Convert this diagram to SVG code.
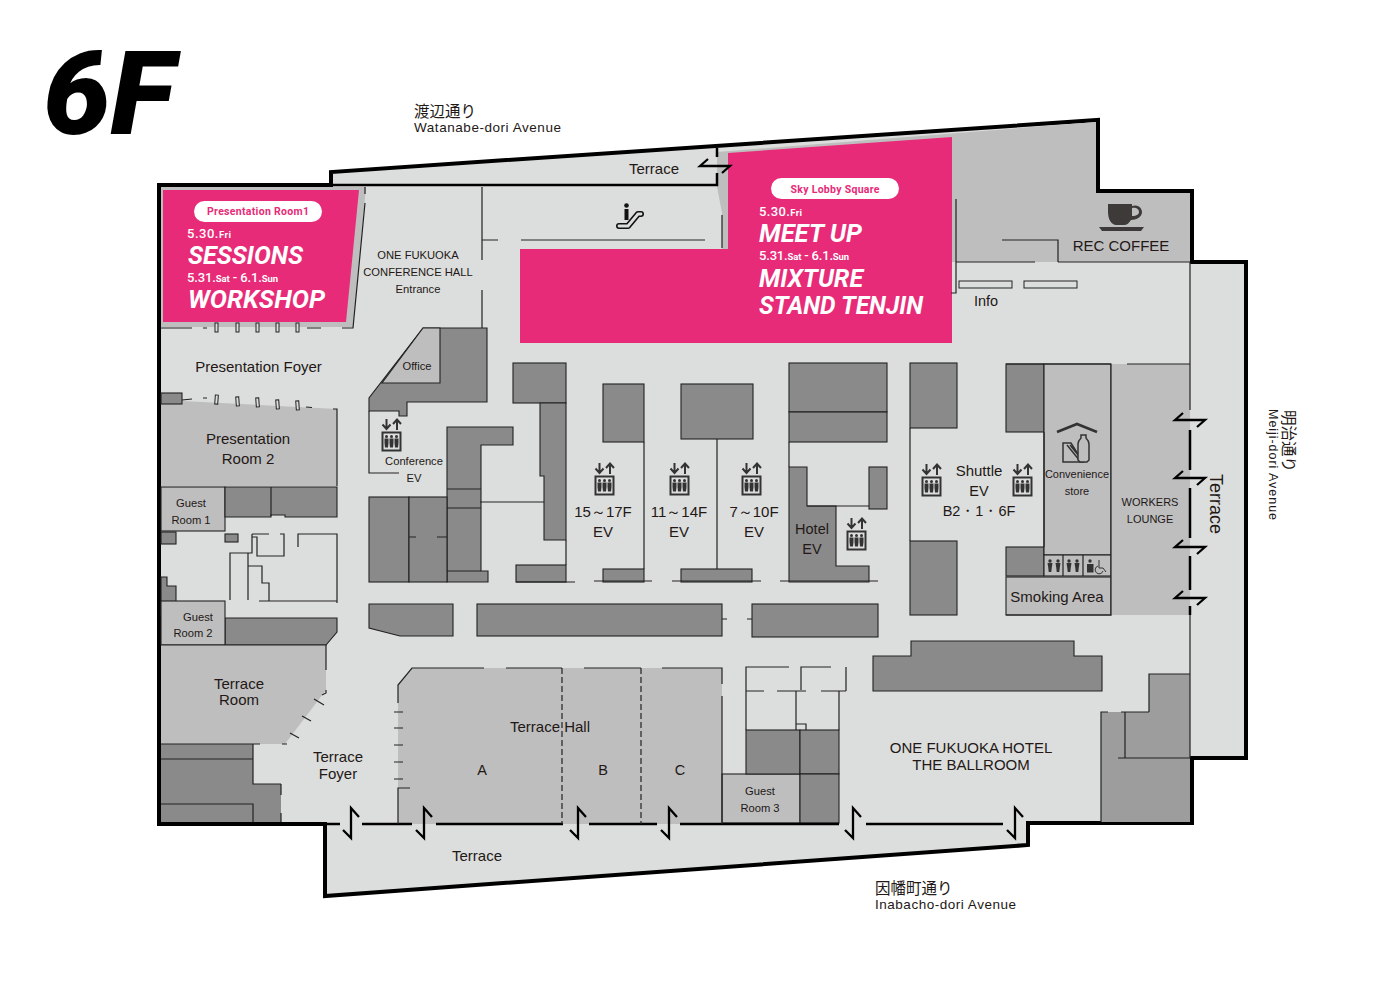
<svg xmlns="http://www.w3.org/2000/svg" width="1400" height="1000" viewBox="0 0 1400 1000">
<style>
text{font-family:"Liberation Sans",Arial,sans-serif;fill:#231815;text-anchor:middle}
.jp{font-family:"Noto Sans CJK JP","Liberation Sans",sans-serif;text-anchor:start}
.en{text-anchor:start;font-size:13.5px}
.s16{font-size:15px}.s15{font-size:14.5px}.s12{font-size:11.2px}
.g{fill:#bebebf}.d{fill:#8a8a8a;stroke:#222;stroke-width:1.1}.m{fill:#9d9d9e;stroke:none}
.gs{fill:#bebebf;stroke:#222;stroke-width:1.1}
.l{fill:none;stroke:#222;stroke-width:1.2}
.t{fill:none;stroke:#000;stroke-width:2.5}
.dash{fill:none;stroke:#222;stroke-width:1.2;stroke-dasharray:6 3}
.pil{fill:#dcdedd;stroke:#222;stroke-width:1}
.pink{fill:#e72b78}
.b{font-family:Roboto,"Liberation Sans",sans-serif;font-weight:700;font-style:italic;fill:#fff;text-anchor:start}
.dt{font-family:Roboto,"Liberation Sans",sans-serif;font-weight:500;fill:#fff;text-anchor:start;font-size:13px}
.dt tspan{font-size:9.5px;font-weight:700}
.pt{font-family:Roboto,"Liberation Sans",sans-serif;font-weight:700;fill:#e72b78;font-size:10.5px}
</style>
<defs>
<symbol id="ev" viewBox="0 0 22 33" width="22" height="33" overflow="visible">
<path d="M5.500 0v9.500M1.500 5.500l4 4.500 4-4.500M16 11V1M12 5l4-4.500 4 4.500" fill="none" stroke="#333" stroke-width="2"/>
<rect x="1.500" y="13.500" width="18" height="18" fill="#dcdedd" stroke="#333" stroke-width="2"/>
<g fill="#333"><circle cx="5.500" cy="17.500" r="1.500"/><circle cx="10.500" cy="17.500" r="1.500"/><circle cx="15.500" cy="17.500" r="1.500"/>
<path d="M3.500 19.500h4v4.500l-.5 4.500h-3l-.5-4.500zM8.500 19.500h4v4.500l-.5 4.500h-3l-.5-4.500zM13.500 19.500h4v4.500l-.5 4.500h-3l-.5-4.500z"/></g>
</symbol>
<path id="dz" d="M8 9L0 0V30L-8 22" fill="none" stroke="#000" stroke-width="2.300"/>
<path id="dh" d="M8 -7L0 0H30L22 7" fill="none" stroke="#000" stroke-width="2.300"/>
</defs>
<rect width="1400" height="1000" fill="#fff"/>
<g id="title"><text x="43" y="134" style="font-family:Roboto,sans-serif;font-weight:900;font-style:italic;font-size:116px;text-anchor:start;fill:#000" textLength="131" lengthAdjust="spacingAndGlyphs">6F</text></g>
<g id="streets">
<text class="jp" x="414" y="117" font-size="15.500">渡辺通り</text>
<text class="en" x="414" y="132" textLength="147" lengthAdjust="spacing">Watanabe-dori Avenue</text>
<text class="jp" x="875" y="894" font-size="15.500">因幡町通り</text>
<text class="en" x="875" y="909" textLength="141" lengthAdjust="spacing">Inabacho-dori Avenue</text>
<text class="jp" transform="translate(1283 410) rotate(90)" font-size="15.500">明治通り</text>
<text class="en" transform="translate(1269 409) rotate(90)" textLength="111" lengthAdjust="spacing" style="font-size:12.5px">Meiji-dori Avenue</text>
</g>
<path id="floor" d="M159 185H331V172L1098 120V191H1192V262H1246V758H1192V823H1028V845L325 896V824H159Z" fill="#dcdedd" stroke="#000" stroke-width="4"/>

<g id="grey-areas">
<path class="g" d="M717 152L1096 122V193H1190V262H952V249H722V213L717 187Z"/>
<path class="g" d="M161 187H366L353 327H161Z"/>
</g>

<g id="sky-lobby">
<path class="pink" d="M728 153L952 137V343H520V249H728Z"/>
<rect x="771" y="178" width="128" height="21" rx="10.500" fill="#fff"/>
<text class="pt" x="835" y="193" textLength="89">Sky Lobby Square</text>
<text class="dt" x="759" y="216" textLength="43">5.30.<tspan>Fri</tspan></text>
<text class="b" x="759" y="242" font-size="26" textLength="103" lengthAdjust="spacingAndGlyphs">MEET UP</text>
<text class="dt" x="759" y="260" textLength="90">5.31.<tspan>Sat</tspan> - 6.1.<tspan>Sun</tspan></text>
<text class="b" x="759" y="287" font-size="26" textLength="104" lengthAdjust="spacingAndGlyphs">MIXTURE</text>
<text class="b" x="759" y="314" font-size="26" textLength="164" lengthAdjust="spacingAndGlyphs">STAND TENJIN</text>
</g>

<g id="presentation-room-1">
<path class="pink" d="M163 190H359L346 322H163Z"/>
<rect x="194" y="201" width="128" height="21" rx="10.500" fill="#fff"/>
<text class="pt" x="258" y="215" textLength="102">Presentation Room1</text>
<text class="dt" x="187" y="238" textLength="44">5.30.<tspan>Fri</tspan></text>
<text class="b" x="188" y="264" font-size="26" textLength="115" lengthAdjust="spacingAndGlyphs">SESSIONS</text>
<text class="dt" x="187" y="282" textLength="91">5.31.<tspan>Sat</tspan> - 6.1.<tspan>Sun</tspan></text>
<text class="b" x="188" y="308" font-size="26" textLength="137" lengthAdjust="spacingAndGlyphs">WORKSHOP</text>
</g>

<g id="presentation-room-2"><path class="g" d="M161 404L182 401L337 409V486H161Z"/><rect class="d" x="161" y="393" width="21" height="11"/><text class="s16" x="248" y="444">Presentation</text><text class="s16" x="248" y="464">Room 2</text></g>
<g id="guest-room-1"><rect class="gs" x="161" y="487" width="64" height="44"/><text class="s12" x="191" y="507">Guest</text><text class="s12" x="191" y="524">Room 1</text></g>
<g id="service-left">
<path class="d" d="M225 487H337V517H285V515H271V517H225Z"/><path class="l" d="M271 487V516"/>
<rect class="d" x="161" y="532" width="15" height="12"/><rect class="d" x="225" y="534" width="13" height="8"/>
<path class="d" d="M161 577H167V586H176V615H161Z"/>
<path class="d" d="M225 618H337V632L326 645H225Z"/>
</g>
<g id="guest-room-2"><rect class="gs" x="161" y="601" width="64" height="44"/><text class="s12" x="198" y="621">Guest</text><text class="s12" x="193" y="637">Room 2</text></g>
<g id="terrace-room"><path class="g" d="M161 645H326V690L285 744H161Z"/><path class="l" d="M161 645H326"/><text class="s16" x="239" y="689">Terrace</text><text class="s16" x="239" y="705">Room</text></g>
<g id="service-sw">
<path d="M161 744H253V784H281V822H161Z" fill="#8a8a8a"/><path class="l" d="M161 744H260M161 759H253M253 744V784H281M161 804H253V822"/>
</g>
<g id="terrace-foyer"><text class="s16" x="338" y="762">Terrace</text><text class="s16" x="338" y="779">Foyer</text></g>
<g id="terrace-label"><text class="s16" x="477" y="861">Terrace</text><text class="s16" x="654" y="174">Terrace</text></g>
<g id="terrace-east"><text transform="translate(1210 504) rotate(90)" font-size="18">Terrace</text></g>

<g id="conference-hall"><text class="s12" x="418" y="259">ONE FUKUOKA</text><text class="s12" x="418" y="276">CONFERENCE HALL</text><text class="s12" x="418" y="293">Entrance</text></g>
<g id="presentation-foyer"><text class="s16" x="258.500" y="372">Presentation Foyer</text></g>
<g id="office">
<path class="d" d="M423 328H487V402H407V416H399V411H369V398Z"/>
<path class="gs" d="M423 328H440V383H382Z"/>
<text class="s12" x="417" y="370">Office</text>
</g>
<g id="conference-ev"><use href="#ev" x="381" y="419"/><text class="s12" x="414" y="465">Conference</text><text class="s12" x="414" y="482">EV</text></g>
<g id="core-west">
<path class="d" d="M447 427H513V445H481V571H488V582H447Z"/><path class="l" d="M447 489H481M447 508H481M447 571H481"/>
<rect class="d" x="369" y="497" width="40" height="85"/><rect class="d" x="409" y="497" width="38" height="85"/><path class="l" d="M409 537H416M437 537H447"/>
<path class="d" d="M369 604H453V636H400L369 628Z"/>
</g>
<g id="core-centre">
<rect class="d" x="513" y="363" width="53" height="40"/><path class="d" d="M540 403H566V540H544V476H540Z"/><rect class="d" x="516" y="565" width="50" height="17"/>
<rect class="d" x="603" y="384" width="41" height="58"/><rect class="d" x="603" y="569" width="41" height="13"/>
<rect class="d" x="681" y="384" width="72" height="55"/><rect class="d" x="681" y="569" width="71" height="13"/>
<rect class="d" x="477" y="604" width="245" height="32"/><rect class="d" x="752" y="604" width="126" height="33"/>
</g>
<g id="ev-15-17"><use href="#ev" x="594" y="463"/><text class="s16" x="603" y="517">15～17F</text><text class="s16" x="603" y="537">EV</text></g>
<g id="ev-11-14"><use href="#ev" x="669" y="463"/><text class="s16" x="679" y="517">11～14F</text><text class="s16" x="679" y="537">EV</text></g>
<g id="ev-7-10"><use href="#ev" x="741" y="463"/><text class="s16" x="754" y="517">7～10F</text><text class="s16" x="754" y="537">EV</text></g>
<g id="hotel-ev">
<rect class="d" x="789" y="363" width="98" height="49"/><rect class="d" x="789" y="412" width="98" height="30"/>
<path class="d" d="M789 467H807V506H836V566H869V582H789Z"/><rect class="d" x="869" y="467" width="18" height="42"/><path class="l" d="M807 506H869"/>
<use href="#ev" x="846" y="518"/><text class="s15" x="812" y="534">Hotel</text><text class="s15" x="812" y="554">EV</text>
</g>
<g id="shuttle-ev">
<rect class="d" x="910" y="363" width="47" height="65"/><rect class="d" x="910" y="541" width="47" height="74"/>
<rect class="d" x="1006" y="364" width="38" height="68"/><rect class="d" x="1006" y="547" width="38" height="29"/>
<use href="#ev" x="921" y="464"/><use href="#ev" x="1012" y="464"/>
<text class="s16" x="979" y="476">Shuttle</text><text class="s15" x="979" y="496">EV</text><text class="s15" x="979" y="516">B2・1・6F</text>
</g>
<g id="convenience-store">
<rect class="gs" x="1044" y="364" width="67" height="191"/>
<path d="M1057 432L1077 424L1097 432" fill="none" stroke="#333" stroke-width="2.600"/>
<path d="M1063 443V462H1083L1071 443ZM1067 445L1080 461M1070 445L1083 461" fill="none" stroke="#333" stroke-width="1.500"/>
<path d="M1081 435H1086V438C1088 440 1089 442 1089 444V460L1087 462H1080L1078 460V444C1078 442 1079 440 1081 438Z" fill="#bebebf" stroke="#333" stroke-width="1.500"/>
<text x="1077" y="478" font-size="11">Convenience</text><text x="1077" y="495" font-size="11">store</text>
</g>
<g id="restrooms">
<rect class="gs" x="1044" y="555" width="67" height="21"/><path class="l" d="M1063 555V576M1083 555V576"/>
<g fill="#333"><circle cx="1050" cy="561" r="1.700"/><path d="M1047.500 563h5l-.8 5-.4 4h-2.600l-.4-4z"/><circle cx="1058" cy="561" r="1.700"/><path d="M1055.500 563h5l-.8 5-.4 4h-2.600l-.4-4z"/><circle cx="1069" cy="561" r="1.700"/><path d="M1066.500 563h5l-.8 5-.4 4h-2.600l-.4-4z"/><circle cx="1077" cy="561" r="1.700"/><path d="M1074.500 563h5l-.8 5-.4 4h-2.600l-.4-4z"/>
<circle cx="1090" cy="561" r="1.700"/><path d="M1087 564h6.500v8.500h-6.500z"/></g>
<path d="M1098 566A4 4 0 1 0 1103 571M1099 560V568H1103L1106 572" fill="none" stroke="#333" stroke-width="1"/>
</g>
<g id="smoking-area"><rect class="gs" x="1006" y="577" width="105" height="38"/><text class="s16" x="1057" y="602">Smoking Area</text></g>
<g id="workers-lounge"><rect class="g" x="1111" y="364" width="79" height="251"/><path class="l" d="M1111 364V615H1006"/><text x="1150" y="506" font-size="11">WORKERS</text><text x="1150" y="523" font-size="11">LOUNGE</text></g>

<g id="rec-coffee">
<path d="M1108 204H1132V206C1138 204 1142 208 1142 212C1142 216 1138 220 1131 220C1129 223 1127 225 1124 225H1116C1112 225 1108 220 1108 212ZM1132 208V216C1137 216 1139 214 1139 212C1139 209 1136 207 1132 208Z" fill="#3e3a39" fill-rule="evenodd"/>
<path d="M1099 227H1144L1141 231H1102Z" fill="#3e3a39"/>
<text class="s16" x="1121" y="251">REC COFFEE</text>
</g>
<g id="info"><rect x="959" y="281" width="53" height="7" fill="#dcdedd" stroke="#222"/><rect x="1024" y="281" width="53" height="7" fill="#dcdedd" stroke="#222"/><text class="s15" x="986" y="306">Info</text></g>
<g id="escalator">
<path d="M619 226L628 226L638 214H641" fill="none" stroke="#111" stroke-width="6" stroke-linecap="round" stroke-linejoin="round"/>
<path d="M619 226L628 226L638 214H641" fill="none" stroke="#dcdedd" stroke-width="2.800" stroke-linecap="round" stroke-linejoin="round"/>
<circle cx="626.500" cy="205.500" r="2.300" fill="#111"/><rect x="624.500" y="209" width="4" height="11" fill="#111"/>
</g>
<g id="terrace-hall">
<path class="g" d="M412 668H722V824H398V685Z"/>
<text class="s16" x="550" y="732">Terrace Hall</text>
<text class="s15" x="482" y="775">A</text><text class="s15" x="603" y="775">B</text><text class="s15" x="680" y="775">C</text>
</g>
<g id="guest-room-3">
<rect class="gs" x="722" y="774" width="78" height="49"/><rect class="d" x="746" y="730" width="54" height="44"/><rect class="d" x="800" y="730" width="39" height="44"/><rect class="d" x="800" y="774" width="39" height="49"/>
<text class="s12" x="760" y="795">Guest</text><text class="s12" x="760" y="812">Room 3</text>
</g>
<g id="ballroom">
<path class="d" d="M873 656H911V641H1074V656H1102V691H873Z"/>
<text x="971" y="753" font-size="15">ONE FUKUOKA HOTEL</text><text x="971" y="770" font-size="15">THE BALLROOM</text>
<path class="m" d="M1149 674H1190V822H1101V712H1149Z"/>
</g>

<g id="connectors">
<path class="t" d="M331 185H717V173M717 157V148"/>
<path class="t" d="M327 824H340M362 824H412M436 824H563M589 824H657M680 824H839M866 824H1003"/>
<path class="l" d="M1190 262V410M1190 606V758"/>
<path class="t" d="M1190 430V470M1190 488V538M1190 556V590M1190 606V615"/>
<path class="l" d="M482 187V260M482 290V328M482 240H498M521 240H705M722 215V248"/>
<path class="l" d="M956 199V293H951M1002 240H1058V262M956 262H1035M1058 262H1190"/>
<path class="l" d="M161 328H192M203 328H207M307 328H321M342 328H353L365 203M365 187V194"/>
<path class="l" d="M182 400L192 399M203 398H207M306 407L312 407.500M333 409H337V486"/>
<path class="l" d="M369 411V473H399"/>
<path class="l" d="M252 534H269M280 534H284V556H257V537H252M298 547V534H337V603M230 600V553H252V534M248 553V600M248 566H262V583H269V601M259 601H337"/>
<path class="l" d="M326 645V670M326 690V693L322 695M314 699L324 705M302 716L311 721M290 733L299 738M282 744H287"/>
<path class="l" d="M398 703V685L412 668H484M506 668H562M584 668H641M662 668H722V684M722 696V824M394 712H403M394 728H403M394 745H403M394 762H403M394 779H403M410 788H398V824"/>
<path class="dash" d="M562 668V824M641 668V824"/>
<path class="l" d="M746 730V667H789M831 667H801V690M846 667V691M746 691H764M777 691H806M821 691H846M796 691V730M839 691V730M796 724H806V730"/>
<path class="l" d="M644 442V569M717 439V569M594 581H652M672 581H761M780 581H878M516 582H575M722 619H727M747 619H752M480 502H544M566 540V565M910 428V541M1044 432V547M789 442V467M1006 364H1111M1127 364H1190"/>
<path class="l" d="M1149 712V674H1190M1101 822V712H1108M1121 712H1149M1125 712V758M1118 758H1190"/>
<path class="l" d="M281 795V784M281 813V822"/>
<use href="#dz" x="351" y="808"/><use href="#dz" x="424" y="808"/><use href="#dz" x="578" y="808"/><use href="#dz" x="669" y="808"/><use href="#dz" x="853" y="808"/><use href="#dz" x="1015" y="808"/>
<use href="#dh" x="1175" y="420"/><use href="#dh" x="1175" y="478"/><use href="#dh" x="1175" y="547"/><use href="#dh" x="1175" y="598"/><use href="#dh" x="700" y="166"/>
<g class="pil"><rect x="215" y="323" width="3" height="9"/><rect x="236" y="323" width="3" height="9"/><rect x="256" y="323" width="3" height="9"/><rect x="276" y="323" width="3" height="9"/><rect x="296" y="323" width="3" height="9"/>
<rect x="215" y="395" width="3" height="9" transform="rotate(4 216 400)"/><rect x="236" y="397" width="3" height="9" transform="rotate(-4 237 401)"/><rect x="256" y="398" width="3" height="9" transform="rotate(-4 257 402)"/><rect x="276" y="400" width="3" height="9" transform="rotate(-4 277 404)"/><rect x="296" y="401" width="3" height="9" transform="rotate(-4 297 405)"/></g>
</g>
</svg>
